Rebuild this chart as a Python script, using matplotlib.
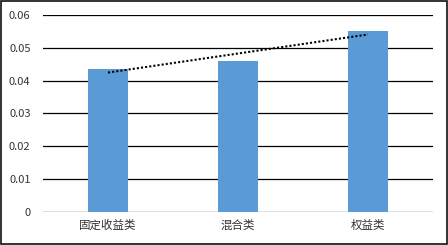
import numpy as np
import matplotlib
matplotlib.use('Agg')
import matplotlib.pyplot as plt
from matplotlib.patches import Rectangle

plt.rcParams['font.family'] = ['Noto Sans CJK SC', 'DejaVu Sans']

# data
categories = ['固定收益类', '混合类', '权益类']
values = [0.0436, 0.0460, 0.0552]
yticks = [0, 0.01, 0.02, 0.03, 0.04, 0.05, 0.06]
ytick_labels = ['0', '0.01', '0.02', '0.03', '0.04', '0.05', '0.06']

fig = plt.figure(figsize=(4.48, 2.45), dpi=100)
ax = fig.add_axes([0.096, 0.1347, 0.8705, 0.8041])

x = np.arange(len(categories))
ax.bar(x, values, width=0.315, color='#5B9BD5', zorder=3)

# linear trendline
coef = np.polyfit(x, values, 1)
ax.plot(x[[0, -1]], np.polyval(coef, x[[0, -1]]), color='black',
        linestyle=(0, (1, 1)), linewidth=1.5, zorder=4)

ax.set_xlim(-0.5, len(categories) - 0.5)
ax.set_ylim(0, 0.06)
ax.set_yticks(yticks)
ax.set_yticklabels(ytick_labels)
ax.set_xticks(x)
ax.set_xticklabels(categories)
ax.yaxis.grid(True, color='black', linewidth=0.9, zorder=0)
for s in ax.spines.values():
    s.set_visible(False)
ax.tick_params(length=0, colors='#333333')
ax.tick_params(axis='y', pad=9, labelsize=8)
ax.tick_params(axis='x', pad=5, labelsize=8.3)

fig.patches.append(Rectangle((0.002, 0.004), 0.996, 0.992, transform=fig.transFigure,
                             fill=False, edgecolor='#111111', linewidth=1.2))

fig.savefig('out.png', dpi=100)
